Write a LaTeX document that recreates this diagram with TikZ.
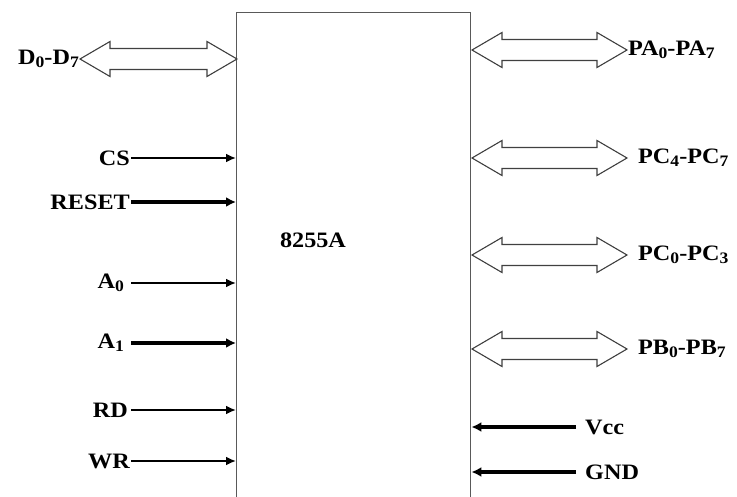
\documentclass[tikz,border=0pt]{standalone}
\usepackage{fontspec}
\setmainfont[FakeStretch=1.1]{Liberation Serif}
\usetikzlibrary{positioning,arrows.meta}
\tikzset{
  pin/.style={font=\bfseries\fontsize{22}{22}\selectfont, inner sep=1pt},
  sig/.style={draw=black, line width=1.9pt, -{Latex[length=10pt,width=9pt]}},
  sigthick/.style={draw=black, line width=3.2pt, -{Latex[length=10pt,width=10pt]}},
  bus/.style={draw=black!75, line width=1.1pt, fill=white, line join=miter}
}
\newcommand{\sub}[1]{\raisebox{-3pt}{\fontsize{16}{16}\selectfont #1}}
% bus arrow: name, left x, right x, y
\newcommand{\busarrow}[4]{%
  \coordinate (#1-l) at (#2,#4);
  \coordinate (#1-r) at (#3,#4);
  \draw[bus] (#1-l) -- ({#2+30},{#4-17.5}) -- ({#2+30},{#4-10.5}) -- ({#3-30},{#4-10.5})
    -- ({#3-30},{#4-17.5}) -- (#1-r) -- ({#3-30},{#4+17.5}) -- ({#3-30},{#4+10.5})
    -- ({#2+30},{#4+10.5}) -- ({#2+30},{#4+17.5}) -- cycle;
}
\begin{document}
\begin{tikzpicture}[x=1pt,y=-1pt]
\useasboundingbox (0,0) rectangle (737,497);
\node[draw=black!65, line width=1.4pt, minimum width=234, minimum height=487, anchor=north west, inner sep=0pt] (chip) at (236,12) {};
\node[pin] (name) at (313,240) {8255A};
% data bus
\busarrow{d}{80}{237}{59}
\node[pin, left=0pt of d-l] (dlab) {D\sub{0}-D\sub{7}};
% port buses
\busarrow{pa}{472}{627}{50}
\node[pin, right=0pt of pa-r] (palab) {PA\sub{0}-PA\sub{7}};
\busarrow{pch}{472}{627}{158}
\node[pin, right=10pt of pch-r] (pchlab) {PC\sub{4}-PC\sub{7}};
\busarrow{pcl}{472}{627}{255}
\node[pin, right=10pt of pcl-r] (pcllab) {PC\sub{0}-PC\sub{3}};
\busarrow{pb}{472}{627}{349}
\node[pin, right=10pt of pb-r] (pblab) {PB\sub{0}-PB\sub{7}};
% control inputs
\foreach \id/\txt/\y/\st/\gap in {cs/CS/158/sig/0, reset/RESET/202/sigthick/0,
    a0/A\sub{0}/283/sig/6, a1/A\sub{1}/343/sigthick/6, rd/RD/410/sig/2, wr/WR/461/sig/0}{
  \node[pin, anchor=east] (\id) at ({131-\gap},\y) {\txt};
  \draw[\st, shorten <=\gap pt] (\id.east) -- (\id.east -| chip.west);
}
% supply
\node[pin, anchor=west] (vcc) at (584,427) {Vcc};
\draw[sigthick, shorten <=8pt] (vcc.west) -- (vcc.west -| chip.east);
\node[pin, anchor=west] (gnd) at (584,472) {GND};
\draw[sigthick, shorten <=8pt] (gnd.west) -- (gnd.west -| chip.east);
\end{tikzpicture}
\end{document}
